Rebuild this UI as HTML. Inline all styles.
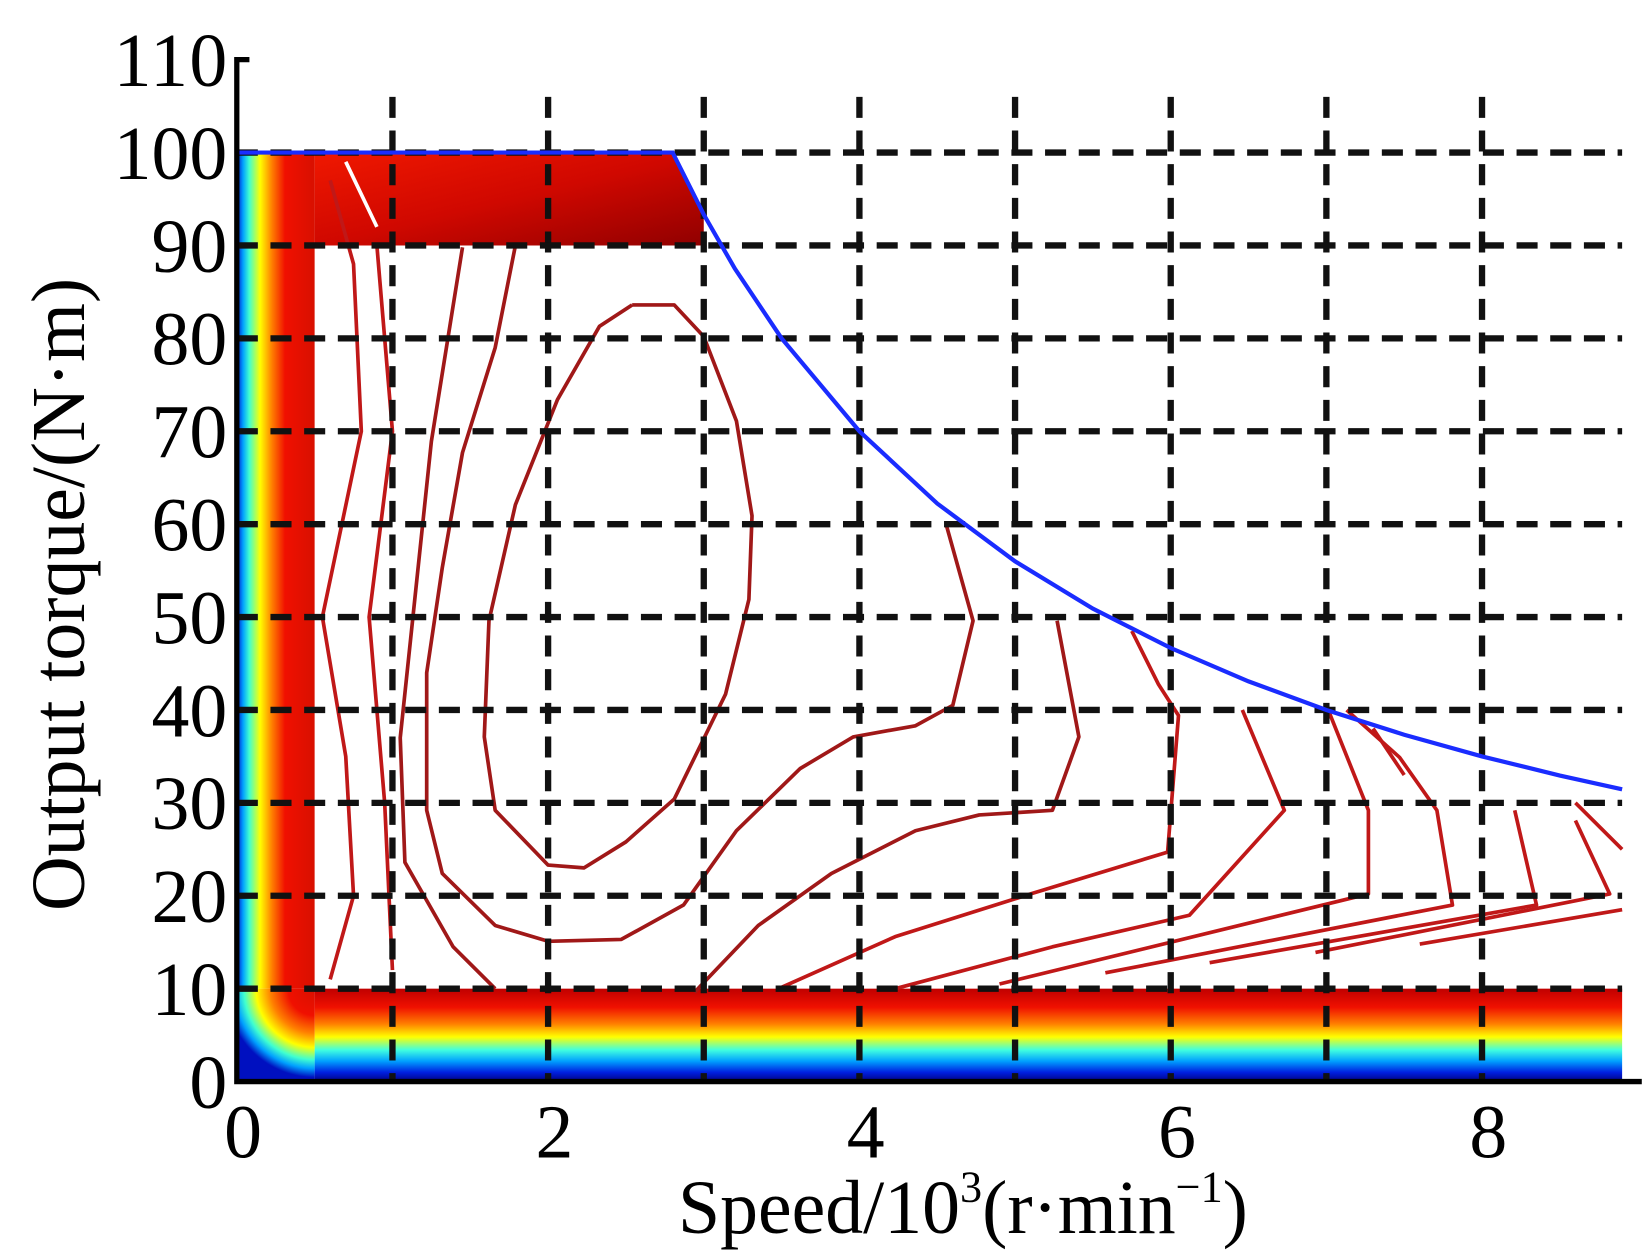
<!DOCTYPE html>
<html><head><meta charset="utf-8"><style>
html,body{margin:0;padding:0;background:#fff}
svg{display:block}
text{font-family:"Liberation Serif",serif;fill:#000}
</style></head><body>
<svg id="chart" width="1646" height="1252" viewBox="0 0 1564 1190" preserveAspectRatio="none" xmlns="http://www.w3.org/2000/svg">
<defs>
<linearGradient id="gLeft" x1="0" x2="1" y1="0" y2="0">
<stop offset="0" stop-color="#0010c0"/><stop offset="0.08" stop-color="#00a0ff"/><stop offset="0.16" stop-color="#40ffd0"/><stop offset="0.3" stop-color="#ffff00"/><stop offset="0.45" stop-color="#ff8000"/><stop offset="0.62" stop-color="#f01000"/><stop offset="1" stop-color="#d81000"/>
</linearGradient>
<linearGradient id="gBottom" x1="0" x2="0" y1="0" y2="1">
<stop offset="0" stop-color="#c00000"/><stop offset="0.2" stop-color="#f01000"/><stop offset="0.38" stop-color="#ff8000"/><stop offset="0.52" stop-color="#ffff00"/><stop offset="0.66" stop-color="#40ffe0"/><stop offset="0.78" stop-color="#00a0ff"/><stop offset="0.9" stop-color="#0020e0"/><stop offset="1" stop-color="#000080"/>
</linearGradient>
<radialGradient id="gCorner" gradientUnits="userSpaceOnUse" cx="299" cy="940" r="84">
<stop offset="0" stop-color="#d81000"/><stop offset="0.3" stop-color="#f01000"/><stop offset="0.5" stop-color="#ff8000"/><stop offset="0.66" stop-color="#ffff00"/><stop offset="0.8" stop-color="#40ffd0"/><stop offset="0.9" stop-color="#00a0ff"/><stop offset="1" stop-color="#0010c0"/>
</radialGradient>
<linearGradient id="gTop" x1="0" x2="1" y1="0" y2="1">
<stop offset="0" stop-color="#f01800"/><stop offset="0.5" stop-color="#d00800"/><stop offset="1" stop-color="#900000"/>
</linearGradient>
</defs>
<g id="fills"></g>
<g id="contours"></g>
<g id="grid"></g>
<g id="boundary"></g>
<g id="axes"></g>
</svg>
<script>
const xTicks=[0,2,4,6,8];
const yTicks=[0,10,20,30,40,50,60,70,80,90,100,110];
const gridX=[1,2,3,4,5,6,7,8];
const gridY=[10,20,30,40,50,60,70,80,90,100];
const cornerSpeed=2.8;
const maxTorque=100;
const powerConst=280;
const boundarySpeeds=[0,2.8,3.0,3.2,3.5,4,4.5,5,5.5,6,6.5,7,7.5,8,8.5,8.9];
const contourA=[[2.54,83.6],[2.81,83.6],[3.0,80.2],[3.21,71.1],[3.31,60.9],[3.29,51.9],[3.14,41.7],[2.81,30.4],[2.5,25.8],[2.23,23],[2.0,23.3],[1.66,29.2],[1.59,37.1],[1.62,49.6],[1.79,62.1],[2.06,73.4],[2.33,81.3],[2.54,83.6]];
const contourB=[[1.79,90],[1.66,79],[1.45,67.7],[1.32,55.3],[1.22,44],[1.22,29.2],[1.32,22.4],[1.66,16.8],[2.0,15.1],[2.47,15.3],[2.87,19],[3.21,27],[3.62,33.7],[3.96,37.1],[4.36,38.3],[4.6,40.5],[4.73,49.6],[4.56,59.8]];
const contourC=[[1.45,89.8],[1.25,68.9],[1.05,37],[1.08,23.6],[1.39,14.5],[1.66,10]];
const contourD=[[2.94,9.6],[3.35,16.8],[3.82,22.4],[4.36,27],[4.77,28.7],[5.24,29.2],[5.41,37.1],[5.27,49.6]];
const contourE=[[3.48,10],[4.23,15.6],[5.1,20.2],[5.98,24.7],[6.05,39.4],[5.92,42.8],[5.75,48.5]];
const contourF=[[4.23,10],[5.24,14.5],[6.12,17.9],[6.73,29.2],[6.46,40]];
const contourG=[[4.9,10.5],[7.27,20.2],[7.27,29.2],[7.0,40.5]];
const contourH=[[5.58,11.7],[7.81,19],[7.71,29.2],[7.47,34.9],[7.13,40]];
const contourI=[[6.25,12.8],[8.35,19],[8.21,29.2]];
const contourJ=[[6.93,13.9],[8.82,20.2],[8.6,28.1]];
const contourK=[[7.6,14.8],[8.9,18.5]];
const contourL=[[0.6,97],[0.75,88],[0.8,70],[0.55,50],[0.7,35],[0.75,20],[0.6,11]];
const contourM=[[0.9,90],[1.0,70],[0.85,50],[0.95,30],[1.0,12]];
const contourN=[[0.7,99],[0.9,92]];
const contourO=[[8.6,30],[8.9,25]];
const contourP=[[7.3,38],[7.5,33]];
const X=s=>225+147.9*s;
const Y=t=>1028-8.83*t;
const NS='http://www.w3.org/2000/svg';
function mk(tag,parent){const e=document.createElementNS(NS,tag);document.getElementById(parent).appendChild(e);return e;}
function bound(s){return s<=cornerSpeed?maxTorque:Math.min(maxTorque,powerConst/s);}
// fills
let r=mk('rect','fills');


r.setAttribute('x',X(0));r.setAttribute('y',Y(100));r.setAttribute('width',X(0.5)-X(0));r.setAttribute('height',Y(10)-Y(100));r.setAttribute('fill','url(#gLeft)');
r=mk('rect','fills');


r.setAttribute('x',X(0.5));r.setAttribute('y',Y(10));r.setAttribute('width',X(8.9)-X(0.5));r.setAttribute('height',Y(0)-Y(10));r.setAttribute('fill','url(#gBottom)');
r=mk('rect','fills');


r.setAttribute('x',X(0));r.setAttribute('y',Y(10));r.setAttribute('width',X(0.5)-X(0));r.setAttribute('height',Y(0)-Y(10));r.setAttribute('fill','url(#gCorner)');
r=mk('path','fills');


r.setAttribute('d',`M${X(0.5)},${Y(100)} L${X(cornerSpeed)},${Y(100)} L${X(3.0)},${Y(93)} L${X(3.0)},${Y(90)} L${X(0.5)},${Y(90)} Z`);
r.setAttribute('fill','url(#gTop)');
// contours
const contours=[contourA,contourB,contourC,contourD,contourE,contourF,contourG,contourH,contourI,contourJ,contourK,contourL,contourM,contourN,contourO,contourP];
contours.forEach((c,i)=>{const p=mk('polyline','contours');


p.setAttribute('points',c.map(d=>X(d[0])+','+Y(d[1])).join(' '));
const white=(i===13);
p.setAttribute('fill','none');p.setAttribute('stroke',white?'#fff':(i<4?'#a01818':'#c01818'));p.setAttribute('stroke-width',3.5);p.setAttribute('stroke-linejoin','round');});
// grid
gridX.forEach(v=>{const l=mk('line','grid');


l.setAttribute('x1',X(v));l.setAttribute('x2',X(v));l.setAttribute('y1',Y(106));l.setAttribute('y2',Y(0));
l.setAttribute('stroke','#111');l.setAttribute('stroke-width',6);l.setAttribute('stroke-dasharray','20 12');});
gridY.forEach(v=>{const l=mk('line','grid');


l.setAttribute('x1',X(0));l.setAttribute('x2',X(8.9));l.setAttribute('y1',Y(v));l.setAttribute('y2',Y(v));
l.setAttribute('stroke','#111');l.setAttribute('stroke-width',6);l.setAttribute('stroke-dasharray','20 12');});
// boundary
const pts=[];boundarySpeeds.forEach(s=>{pts.push(X(s)+','+Y(bound(s)));});
const b=mk('polyline','boundary');


b.setAttribute('points',pts.join(' '));b.setAttribute('fill','none');b.setAttribute('stroke','#1a2cff');b.setAttribute('stroke-width',4);
// axes
let a=mk('path','axes');


a.setAttribute('d',`M${X(0)+12},${Y(110)} L${X(0)},${Y(110)} L${X(0)},${Y(0)} L1560,${Y(0)}`);
a.setAttribute('fill','none');a.setAttribute('stroke','#000');a.setAttribute('stroke-width',5);
yTicks.forEach(v=>{const t=mk('text','axes');


t.setAttribute('x',216);t.setAttribute('y',Y(v)+25);t.setAttribute('text-anchor','end');t.setAttribute('font-size',72);t.setAttribute('textLength',String(v).length*36);t.textContent=v;});
xTicks.forEach(v=>{const t=mk('text','axes');


t.setAttribute('x',X(v)+6);t.setAttribute('y',1100);t.setAttribute('text-anchor','middle');t.setAttribute('font-size',72);t.textContent=v;});
let xt=mk('text','axes');


xt.setAttribute('x',915);xt.setAttribute('y',1172);xt.setAttribute('text-anchor','middle');xt.setAttribute('font-size',72);
xt.innerHTML='Speed/10<tspan font-size="42" dy="-30">3</tspan><tspan dy="30">(r·min</tspan><tspan font-size="42" dy="-30">−1</tspan><tspan dy="30">)</tspan>';
let yt=mk('text','axes');


yt.setAttribute('transform','translate(80,565) rotate(-90)');yt.setAttribute('text-anchor','middle');yt.setAttribute('font-size',72);
yt.textContent='Output torque/(N·m)';
</script>
</body></html>
